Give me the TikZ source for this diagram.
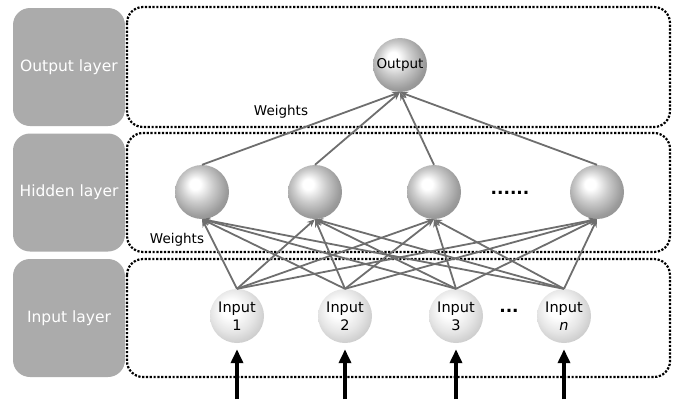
\documentclass[tikz,border=0pt]{standalone}
\usepackage{fontspec}
\setmainfont{DejaVu Sans}
\usetikzlibrary{arrows.meta}
\definecolor{layergray}{HTML}{ABABAB}
\definecolor{wgray}{HTML}{6E6E6E}
\pgfdeclareradialshading{darksphere}{\pgfpoint{-7bp}{8bp}}{color(0bp)=(white); color(5bp)=(white); color(15bp)=(gray!40); color(26bp)=(gray!78); color(36bp)=(gray!95); color(50bp)=(gray!95)}
\pgfdeclareradialshading{lightsphere}{\pgfpoint{-7bp}{8bp}}{color(0bp)=(white); color(8bp)=(white); color(20bp)=(gray!20); color(30bp)=(gray!42); color(36bp)=(gray!58); color(50bp)=(gray!58)}

\begin{document}
\begin{tikzpicture}[x=1pt,y=-1pt,line cap=butt,
        layerbox/.style={rectangle,fill=layergray,rounded corners=17pt,minimum width=112pt,minimum height=118pt,text=white,font=\fontsize{15.5}{18}\selectfont},
        layerframe/.style={line width=2.2pt,dash pattern=on 2.2pt off 1.6pt,rounded corners=16pt},
        neuron/.style={circle,shading=darksphere,minimum size=54pt,inner sep=0pt,align=center,font=\fontsize{13.5}{17}\selectfont},
        inneuron/.style={neuron,shading=lightsphere,font=\fontsize{14.5}{18}\selectfont},
        wline/.style={-{Stealth[length=8pt,width=6.5pt]},draw=wgray,line width=1.8pt},
        feed/.style={-{Triangle[length=14pt,width=12pt]},line width=4.5pt,shorten >=6pt},
        dots/.style={font=\bfseries\fontsize{17}{17}\selectfont}]
        \useasboundingbox (0,0) rectangle (677,399);
        %layers
        \node[layerbox] (lout) at (69,67) {Output layer};
        \node[layerbox] (lhid) at (69,192.5) {Hidden layer};
        \node[layerbox] (lin) at (69,318) {Input layer};
        \draw[layerframe] (127,7) rectangle (670,127);
        \draw[layerframe] (127,133) rectangle (670,252);
        \draw[layerframe] (127,259) rectangle (670,377);
        %neurons
        \node[neuron] (out) at (400,65) {Output};
        \node[neuron] (h1) at (202,192) {};
        \node[neuron] (h2) at (315,192) {};
        \node[neuron] (h3) at (434,192) {};
        \node[neuron] (h4) at (597,192) {};
        \node[dots] (hdots) at (510,193) {......};
        \node[inneuron] (i1) at (237,316) {Input\\1};
        \node[inneuron] (i2) at (345,316) {Input\\2};
        \node[inneuron] (i3) at (456,316) {Input\\3};
        \node[inneuron] (in) at (564,316) {Input\\\textit{n}};
        \node[dots] (idots) at (509,311) {...};
        %weights
        \node (wup) at (281,112) {\fontsize{13.5}{15}\selectfont Weights};
        \node (wlow) at (177,240) {\fontsize{13.5}{15}\selectfont Weights};
        \draw[wline] (h1.north) -- (out.south);
        \draw[wline] (h2.north) -- (out.south);
        \draw[wline] (h3.north) -- (out.south);
        \draw[wline] (h4.north) -- (out.south);
        \draw[wline] (i1.north) -- (h1.south);   %1
        \draw[wline] (i1.north) -- (h2.south);
        \draw[wline] (i1.north) -- (h3.south);
        \draw[wline] (i1.north) -- (h4.south);
        \draw[wline] (i2.north) -- (h1.south);   %2
        \draw[wline] (i2.north) -- (h2.south);
        \draw[wline] (i2.north) -- (h3.south);
        \draw[wline] (i2.north) -- (h4.south);
        \draw[wline] (i3.north) -- (h1.south);   %3
        \draw[wline] (i3.north) -- (h2.south);
        \draw[wline] (i3.north) -- (h3.south);
        \draw[wline] (i3.north) -- (h4.south);
        \draw[wline] (in.north) -- (h1.south);   %n
        \draw[wline] (in.north) -- (h2.south);
        \draw[wline] (in.north) -- (h3.south);
        \draw[wline] (in.north) -- (h4.south);
        %inputs
        \coordinate (s1) at (237,399);
        \coordinate (s2) at (345,399);
        \coordinate (s3) at (456,399);
        \coordinate (sn) at (564,399);
        \draw[feed] (s1) -- (i1.south);
        \draw[feed] (s2) -- (i2.south);
        \draw[feed] (s3) -- (i3.south);
        \draw[feed] (sn) -- (in.south);
\end{tikzpicture}
\end{document}
